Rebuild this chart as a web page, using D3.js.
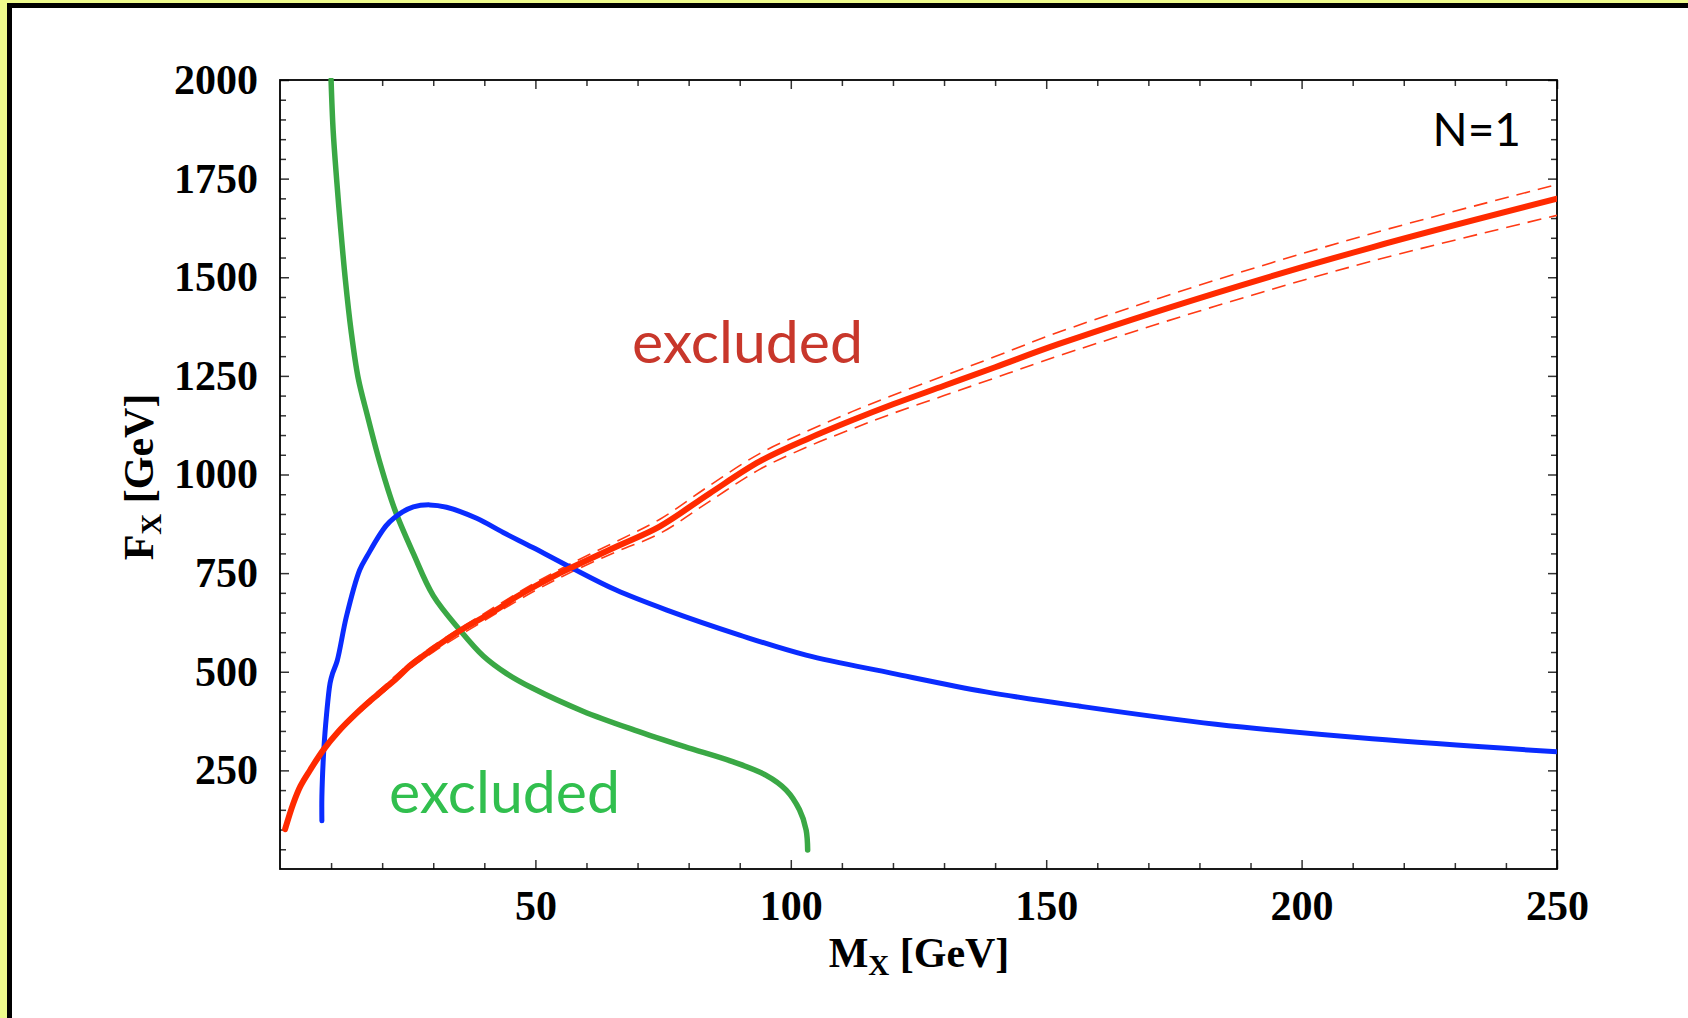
<!DOCTYPE html>
<html>
<head>
<meta charset="utf-8">
<script src="https://cdn.jsdelivr.net/npm/d3@7"></script>
<style>
  body { margin: 0; background: #fff; }
  svg { display: block; }
  .tick text { font-family: "Liberation Serif", "Times New Roman", serif; font-weight: bold; font-size: 42px; fill: #000; }
</style>
</head>
<body>
<svg></svg>
<script>
// chart size
const width = 1688, height = 1018;

// curves: [M_X, F_X]
const greenCurve = [[10.0,2000],[10.4,1873],[11.1,1746],[11.9,1620],[12.8,1493],[13.9,1366],[15.3,1245],
  [17.1,1150],[19.6,1028],[22.5,910],[26.1,800],[30.0,693],[35.2,606],[39.8,540],[44.3,496],[49.5,458],
  [59.3,400],[69.4,352],[79.2,310],[88.6,272],[95.1,238],[99.1,200],[101.7,150],[103.0,99],[103.3,48]];

const blueCurve = [[8.2,122],[8.2,183],[8.5,285],[8.8,344],[9.1,390],[9.8,471],[10.3,496],[11.2,528],
  [13.0,640],[15.6,758],[17.0,792],[20.9,872],[24.0,905],[26.1,918],[29.3,923],[32.6,917],[38.5,889],
  [43.7,853],[49.5,815],[56.7,766],[65.8,707],[75.6,657],[90.0,593],[103,542],[119.9,496],
  [138.2,449],[156.4,413],[183.2,367],[213.8,330],[250,297]];

const redCurve = [[1.0,101],[2.6,166],[4.0,210],[5.9,251],[8.5,302],[11.4,348],[15.0,395],[18.9,440],
  [22.8,483],[25.4,515],[28.0,540],[35.2,604],[42.4,657],[46.3,690],[54.8,750],[57.4,766],[65.8,817],
  [74.3,868],[84.1,952],[93.9,1033],[103.6,1092],[112.1,1138],[120,1178],[130,1225],[140,1272],
  [152.5,1331],[183.2,1460],[213.8,1576],[250,1699]];

const redUpper = [[5,235],[10,330],[15,401],[20,459],[25,517],[30,566],[40,648],[50,726],[57.4,777],
  [65.8,830],[74.3,886],[84.1,972],[93.9,1053],[103.6,1112],[112.1,1160],[120,1201],[130,1250],
  [140,1299],[152.5,1361],[183.2,1493],[213.8,1611],[250,1735]];

const redLower = [[5,228],[10,321],[15,389],[20,445],[25,503],[30,550],[40,630],[50,706],[57.4,755],
  [65.8,804],[74.3,850],[84.1,932],[93.9,1013],[103.6,1072],[112.1,1116],[120,1155],[130,1200],
  [140,1245],[152.5,1301],[183.2,1427],[213.8,1541],[250,1657]];

// ticks
const xMajor = [50, 100, 150, 200, 250];
const xMinor = d3.range(10, 250, 10).filter(v => v % 50 !== 0);
const yMajor = [250, 500, 750, 1000, 1250, 1500, 1750, 2000];
const yMinor = d3.range(50, 2000, 50).filter(v => v % 250 !== 0);

const svg = d3.select("svg").attr("width", width).attr("height", height);

// yellow / black frame (only top and left visible)
svg.append("rect").attr("width", width).attr("height", height).attr("fill", "#eefa8c");
svg.append("rect").attr("x", 7).attr("y", 3).attr("width", width).attr("height", height).attr("fill", "#000");
svg.append("rect").attr("x", 12).attr("y", 8).attr("width", width).attr("height", height).attr("fill", "#fff");

const x = d3.scaleLinear().domain([0, 250]).range([280, 1557]);
const y = d3.scaleLinear().domain([0, 2000]).range([869, 80]);

// axes: major ticks with labels, minor ticks without
function addAxis(axisFn, scale, values, size, transform, labels, pad) {
  const g = svg.append("g").attr("transform", transform)
    .call(axisFn(scale).tickValues(values).tickSize(-size).tickPadding(pad || 0)
      .tickFormat(labels ? d3.format("d") : ""));
  g.select(".domain").remove();
  g.selectAll(".tick line").attr("stroke", "#333").attr("stroke-width", 1.5);
  return g;
}
addAxis(d3.axisBottom, x, xMajor, 9, `translate(0,${y(0)})`, true, 21);
addAxis(d3.axisBottom, x, xMinor, 6, `translate(0,${y(0)})`, false);
addAxis(d3.axisTop, x, xMajor, 9, `translate(0,${y(2000)})`, false);
addAxis(d3.axisTop, x, xMinor, 6, `translate(0,${y(2000)})`, false);
addAxis(d3.axisLeft, y, yMajor, 9, `translate(${x(0)},0)`, true, 22);
addAxis(d3.axisLeft, y, yMinor, 6, `translate(${x(0)},0)`, false);
addAxis(d3.axisRight, y, yMajor, 9, `translate(${x(250)},0)`, false);
addAxis(d3.axisRight, y, yMinor, 6, `translate(${x(250)},0)`, false);

svg.append("rect")
  .attr("x", x(0)).attr("y", y(2000))
  .attr("width", x(250) - x(0)).attr("height", y(0) - y(2000))
  .attr("fill", "none").attr("stroke", "#000").attr("stroke-width", 1.8);

svg.append("clipPath").attr("id", "plot-clip")
  .append("rect").attr("x", x(0)).attr("y", y(2000) - 2)
  .attr("width", x(250) - x(0)).attr("height", y(0) - y(2000) + 2);

const line = d3.line().x(d => x(d[0])).y(d => y(d[1])).curve(d3.curveCatmullRom.alpha(0.5));
const plot = svg.append("g").attr("clip-path", "url(#plot-clip)");

[redUpper, redLower].forEach(data => {
  plot.append("path").datum(data).attr("d", line)
    .attr("fill", "none").attr("stroke", "#ff3a14").attr("stroke-width", 1.6)
    .attr("stroke-dasharray", "14,8");
});

plot.append("path").datum(greenCurve).attr("d", line)
  .attr("fill", "none").attr("stroke", "#3aa845").attr("stroke-width", 5.5).attr("stroke-linecap", "round");
plot.append("path").datum(blueCurve).attr("d", line)
  .attr("fill", "none").attr("stroke", "#0a2cff").attr("stroke-width", 5).attr("stroke-linecap", "round");
plot.append("path").datum(redCurve).attr("d", line)
  .attr("fill", "none").attr("stroke", "#ff2a00").attr("stroke-width", 6).attr("stroke-linecap", "round");

// annotations
svg.append("text").attr("x", 632).attr("y", 363)
  .style("font-family", "Lato, sans-serif").style("font-size", "59px").attr("fill", "#c8372b")
  .text("excluded");
svg.append("text").attr("x", 389).attr("y", 813)
  .style("font-family", "Lato, sans-serif").style("font-size", "59px").attr("fill", "#31bf4e")
  .text("excluded");
svg.append("text").attr("x", 1521).attr("y", 146).attr("text-anchor", "end")
  .style("font-family", "Lato, sans-serif").style("font-size", "46px").attr("fill", "#000")
  .text("N=1");

// axis titles
const serif = "'Liberation Serif', 'Times New Roman', serif";
const xTitle = svg.append("text").attr("x", 919).attr("y", 967).attr("text-anchor", "middle")
  .style("font-family", serif).style("font-weight", "bold").style("font-size", "42px");
xTitle.append("tspan").text("M");
xTitle.append("tspan").attr("dy", 8).style("font-size", "29px").text("X");
xTitle.append("tspan").attr("dy", -8).text(" [GeV]");

const yTitle = svg.append("text").attr("transform", "translate(153,477) rotate(-90)")
  .attr("text-anchor", "middle")
  .style("font-family", serif).style("font-weight", "bold").style("font-size", "42px");
yTitle.append("tspan").text("F");
yTitle.append("tspan").attr("dy", 8).style("font-size", "29px").text("X");
yTitle.append("tspan").attr("dy", -8).text(" [GeV]");
</script>
</body>
</html>
